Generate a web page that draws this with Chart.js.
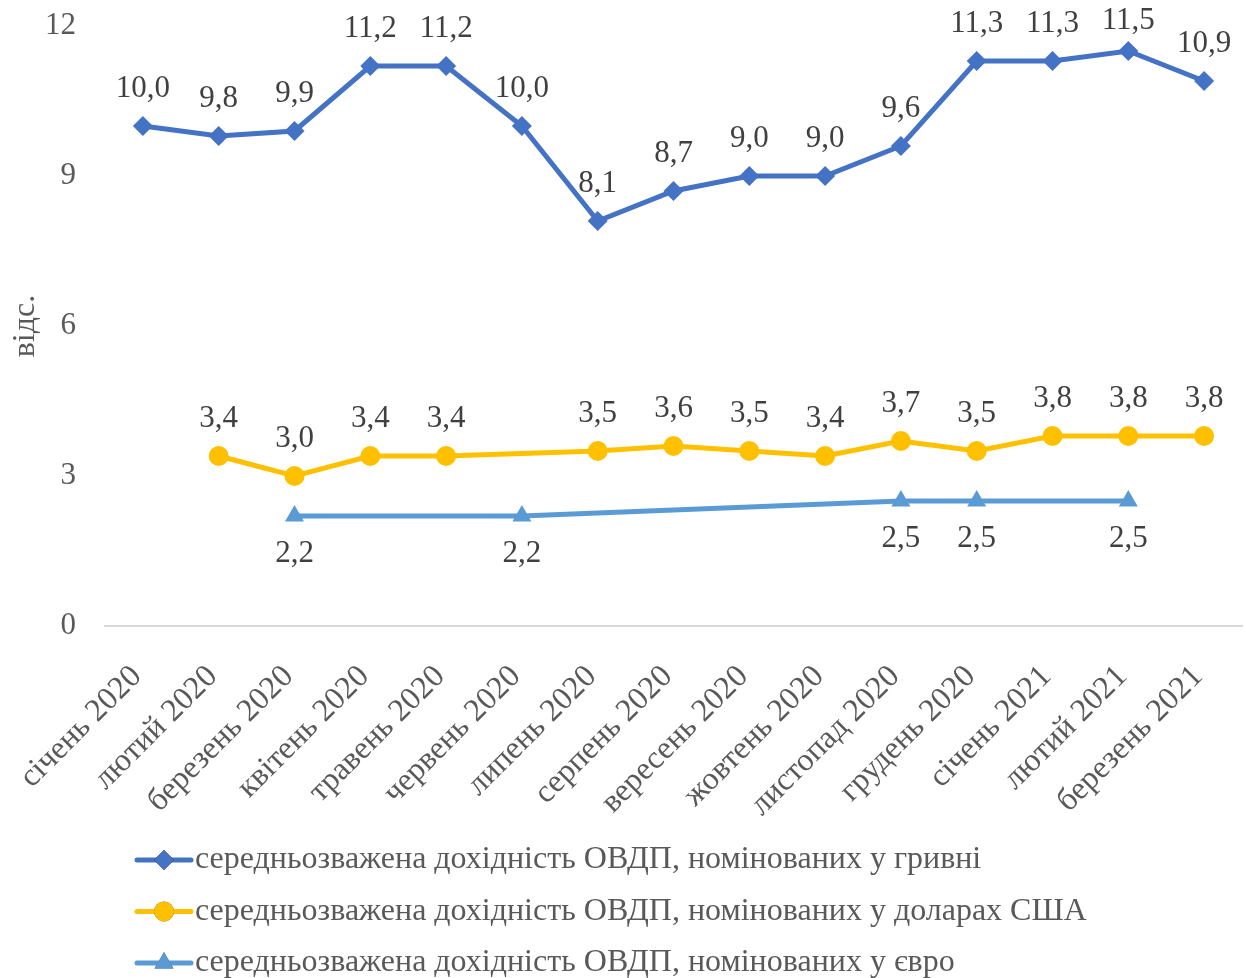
<!DOCTYPE html>
<html>
<head>
<meta charset="utf-8">
<script src="https://cdn.jsdelivr.net/npm/chart.js@4.4.0/dist/chart.umd.min.js"></script>
<style>
  html, body { margin: 0; padding: 0; background: #fff; }
  #wrap { width: 1246px; height: 978px; }
</style>
</head>
<body>
<div id="wrap"><canvas id="grafico" width="1246" height="978"></canvas></div>
<script>
// Дані
const misyaci = ['січень 2020', 'лютий 2020', 'березень 2020', 'квітень 2020', 'травень 2020', 'червень 2020',
  'липень 2020', 'серпень 2020', 'вересень 2020', 'жовтень 2020', 'листопад 2020', 'грудень 2020',
  'січень 2021', 'лютий 2021', 'березень 2021'];
const dohidnistUah = [10.0, 9.8, 9.9, 11.2, 11.2, 10.0, 8.1, 8.7, 9.0, 9.0, 9.6, 11.3, 11.3, 11.5, 10.9];
const dohidnistUsd = [null, 3.4, 3.0, 3.4, 3.4, null, 3.5, 3.6, 3.5, 3.4, 3.7, 3.5, 3.8, 3.8, 3.8];
const dohidnistEur = [null, null, 2.2, null, null, 2.2, null, null, null, null, 2.5, 2.5, null, 2.5, null];
const yTicks = [0, 3, 6, 9, 12];

const shryft = '"Liberation Serif", "Times New Roman", serif';

// Підписи значень
const pidpysy = {
  id: 'pidpysy',
  afterDatasetsDraw(chart) {
    const ctx = chart.ctx;
    ctx.save();
    ctx.font = '31px ' + shryft;
    ctx.fillStyle = '#404040';
    ctx.textAlign = 'center';
    ctx.textBaseline = 'middle';
    chart.data.datasets.forEach((ds, i) => {
      const meta = chart.getDatasetMeta(i);
      meta.data.forEach((pt, j) => {
        const v = ds.data[j];
        if (v === null) return;
        const dy = ds.labelBelow ? 38 : -37;
        const y = Math.max(pt.y + dy, 21);
        ctx.fillText(v.toFixed(1).replace('.', ','), pt.x, y);
      });
    });
    ctx.restore();
  }
};

// Легенда у стовпчик
const legenda = {
  id: 'legenda',
  afterDraw(chart) {
    const ctx = chart.ctx;
    ctx.save();
    ctx.font = '32px ' + shryft;
    ctx.textBaseline = 'middle';
    chart.data.datasets.forEach((ds, i) => {
      const y = 860 + i * 51.5;
      ctx.strokeStyle = ds.borderColor;
      ctx.lineWidth = 5;
      ctx.lineCap = 'round';
      ctx.beginPath();
      ctx.moveTo(137, y);
      ctx.lineTo(191, y);
      ctx.stroke();
      Chart.helpers.drawPoint(ctx, {
        pointStyle: ds.pointStyle, radius: ds.pointRadius, borderWidth: 0, rotation: 0
      }, 164, y);
      ctx.fillStyle = ds.borderColor;
      ctx.fill();
      ctx.fillStyle = '#595959';
      ctx.fillText(ds.label, 195, y);
    });
    ctx.restore();
  }
};

new Chart(document.getElementById('grafico'), {
  type: 'line',
  data: {
    labels: misyaci,
    datasets: [{
      label: 'середньозважена дохідність ОВДП, номінованих у гривні',
      data: dohidnistUah,
      borderColor: '#4472C4',
      backgroundColor: '#4472C4',
      borderWidth: 5,
      pointStyle: 'rectRot',
      pointRadius: 10,
      pointBorderWidth: 0
    }, {
      label: 'середньозважена дохідність ОВДП, номінованих у доларах США',
      data: dohidnistUsd,
      borderColor: '#FFC000',
      backgroundColor: '#FFC000',
      borderWidth: 5,
      pointStyle: 'circle',
      pointRadius: 10,
      pointBorderWidth: 0,
      spanGaps: true
    }, {
      label: 'середньозважена дохідність ОВДП, номінованих у євро',
      data: dohidnistEur,
      borderColor: '#5B9BD5',
      backgroundColor: '#5B9BD5',
      borderWidth: 5,
      pointStyle: 'triangle',
      pointRadius: 11,
      pointBorderWidth: 0,
      spanGaps: true,
      labelBelow: true
    }]
  },
  options: {
    responsive: false,
    animation: false,
    layout: { autoPadding: false, padding: { top: 26, right: 4, bottom: 152, left: 0 } },
    plugins: {
      legend: { display: false },
      tooltip: { enabled: false }
    },
    scales: {
      x: {
        offset: true,
        grid: { display: false },
        border: { color: '#d9d9d9', width: 2 },
        ticks: {
          color: '#595959',
          font: { family: shryft, size: 32 },
          maxRotation: 45,
          minRotation: 45,
          autoSkip: false,
          padding: 24,
          labelOffset: -6
        },
        afterFit(scale) {
          scale.height = 200;
          scale.paddingLeft = 0;
          scale.paddingRight = 0;
        }
      },
      y: {
        min: 0,
        max: 12,
        afterBuildTicks(scale) { scale.ticks = yTicks.map(v => ({ value: v })); },
        grid: { display: false },
        border: { display: false },
        title: {
          display: true,
          text: 'відс.',
          color: '#595959',
          font: { family: shryft, size: 32 },
          padding: { top: 6, bottom: 0 }
        },
        ticks: {
          color: '#595959',
          font: { family: shryft, size: 31 },
          padding: 21
        },
        afterFit(scale) {
          scale.width = 105;
          scale.paddingTop = 0;
          scale.paddingBottom = 0;
        }
      }
    }
  },
  plugins: [pidpysy, legenda]
});
</script>
</body>
</html>
